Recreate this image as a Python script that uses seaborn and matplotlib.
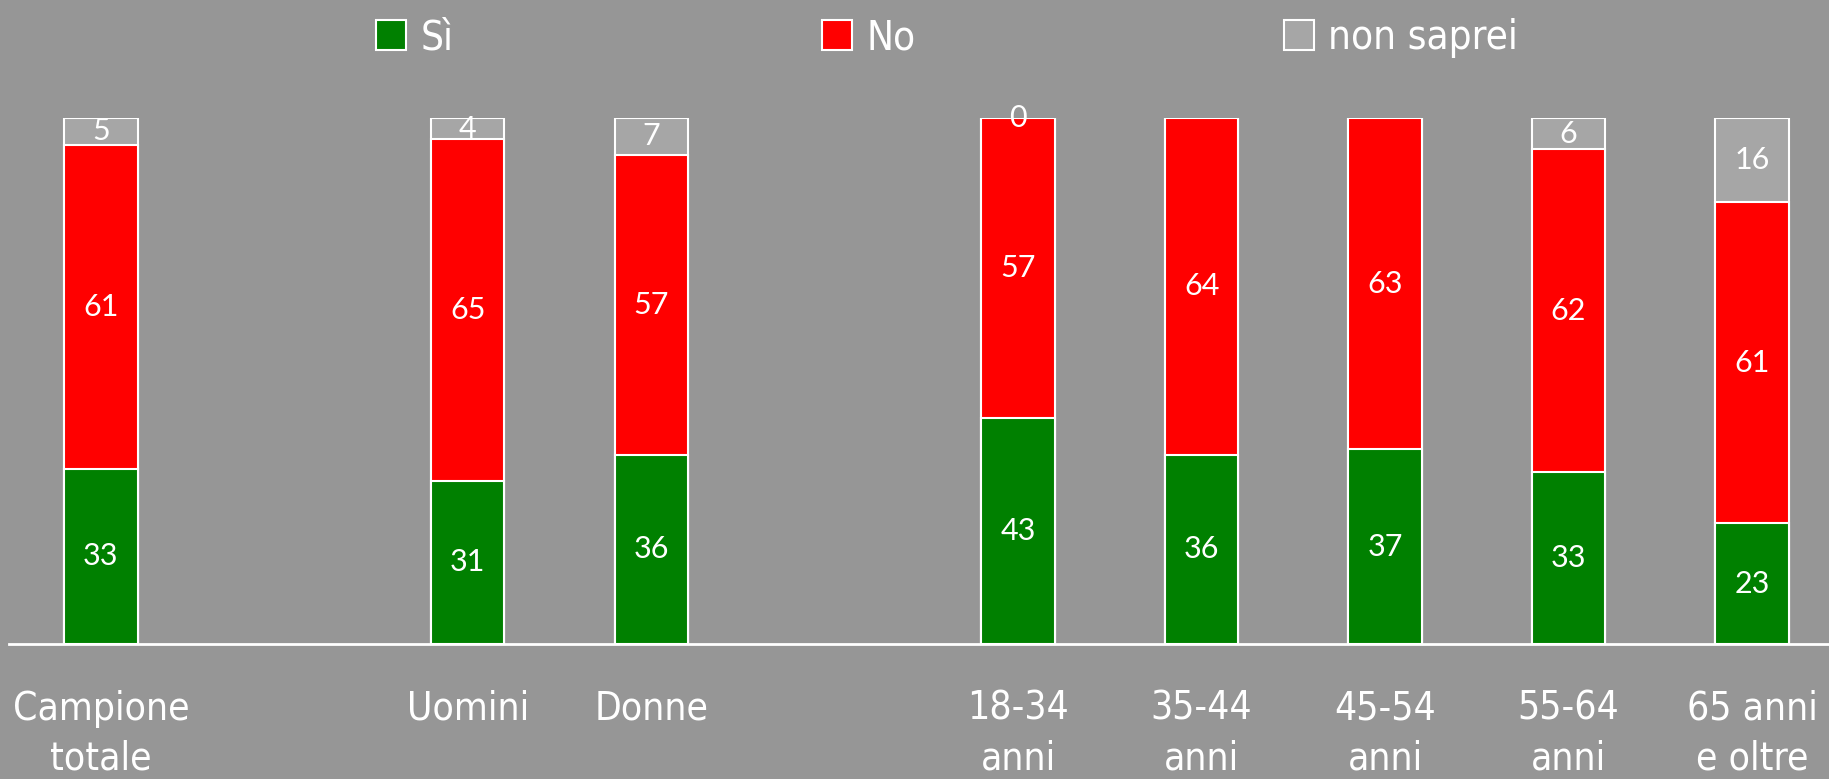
import seaborn as sns
import matplotlib.pyplot as plt
plt.switch_backend('agg')
import numpy as np
import pandas as pd
from matplotlib.patches import Patch

# categories (spacers leave the empty slots between groups)
categories = ['Campione\ntotale', 'Uomini', 'Donne', '18-34\nanni', '35-44\nanni',
              '45-54\nanni', '55-64\nanni', '65 anni\ne oltre']
slot_order = ['Campione\ntotale', ' ', 'Uomini', 'Donne', '  ', '18-34\nanni', '35-44\nanni',
              '45-54\nanni', '55-64\nanni', '65 anni\ne oltre']

si = [33, 31, 36, 43, 36, 37, 33, 23]
no = [61, 65, 57, 57, 64, 63, 62, 61]
non_saprei = [5, 4, 7, 0, None, None, 6, 16]

series_names = ['Sì', 'No', 'non saprei']
series_colors = ['#008000', '#FF0000', '#A6A6A6']
bg = '#969696'

label_font = ['DejaVu Sans']
value_font = ['Lato', 'DejaVu Sans']

df = pd.DataFrame({'cat': categories, 'si': si, 'no': no,
                   'ns': [v if v is not None else 0 for v in non_saprei]})
tot = df[['si', 'no', 'ns']].sum(axis=1)
# stacked as share of 100
df['p_si'] = df['si'] / tot * 100
df['p_no'] = df['no'] / tot * 100
df['p_ns'] = df['ns'] / tot * 100
df['c_si'] = df['p_si']
df['c_no'] = df['p_si'] + df['p_no']
df['c_ns'] = df['c_no'] + df['p_ns']

fig = plt.figure(figsize=(18.29, 7.79), dpi=100, facecolor=bg)
ax = fig.add_axes([0.005, 0.1733, 0.995, 0.6752])
ax.set_facecolor(bg)

for col, color in zip(['c_ns', 'c_no', 'c_si'], series_colors[::-1]):
    sns.barplot(data=df, x='cat', y=col, order=slot_order, color=color,
                saturation=1, width=0.4, edgecolor='white', linewidth=1.5, ax=ax)

# value labels at the middle of each segment
pos = {c: slot_order.index(c) for c in categories}
for i, row in df.iterrows():
    x = pos[row['cat']]
    ax.text(x, row['p_si'] / 2, f"{row['si']:.0f}", ha='center', va='center',
            color='white', fontsize=22, family=value_font)
    ax.text(x, row['c_si'] + row['p_no'] / 2, f"{row['no']:.0f}", ha='center', va='center',
            color='white', fontsize=22, family=value_font)
    if non_saprei[i] is not None:
        ax.text(x, min(row['c_no'] + row['p_ns'] / 2, 100), f"{non_saprei[i]}", ha='center',
                va='center', color='white', fontsize=22, family=value_font)

ax.set_xlim(-0.5, 9.42)
ax.set_ylim(0, 100)
ax.set_xlabel('')
ax.set_ylabel('')
ax.set_yticks([])
ax.set_xticks(range(len(slot_order)))
ax.set_xticklabels(slot_order, color='white', fontsize=28, family=label_font,
                   fontstretch='condensed', linespacing=1.4)
ax.tick_params(axis='x', length=0, pad=33)
for s in ['top', 'right', 'left']:
    ax.spines[s].set_visible(False)
ax.spines['bottom'].set_color('white')
ax.spines['bottom'].set_linewidth(2)

handles = [Patch(facecolor=c, edgecolor='white', linewidth=1.5) for c in series_colors]
leg = fig.legend(handles, series_names, loc='center left', bbox_to_anchor=(0.2055, 0.951),
                 ncol=3, frameon=False, handlelength=0.75, handleheight=0.75,
                 handletextpad=0.35, columnspacing=9.15, borderpad=0, borderaxespad=0,
                 prop={'family': label_font, 'size': 29, 'stretch': 'condensed'})
for t in leg.get_texts():
    t.set_color('white')

plt.savefig('out.png', dpi=100, facecolor=bg)
plt.close()
